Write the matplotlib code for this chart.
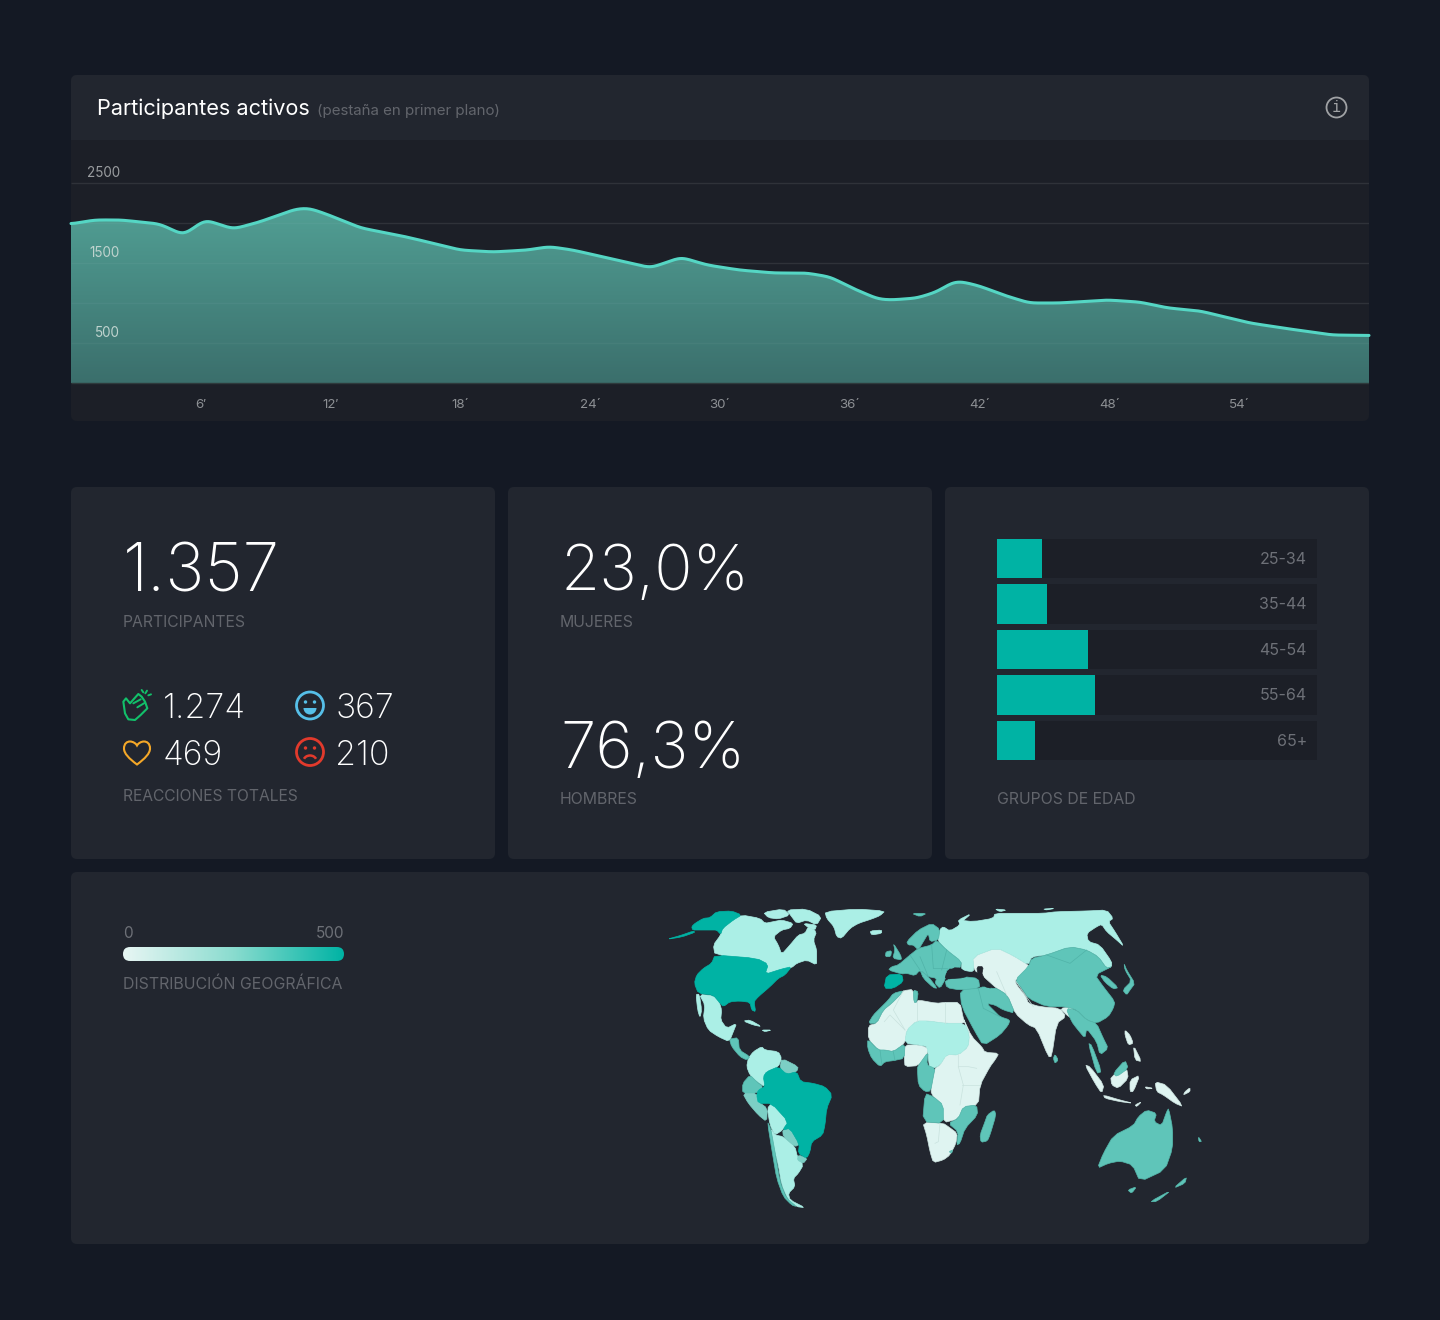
import numpy as np
import matplotlib
matplotlib.use("Agg")
import matplotlib.pyplot as plt
from matplotlib.patches import FancyBboxPatch, Rectangle, Circle, Polygon, PathPatch, Wedge, Arc
from matplotlib.path import Path
from matplotlib.colors import LinearSegmentedColormap

# ---------- data ----------
minutes = [0,1.1,2.3,4.1,5.2,6.2,7.5,8.7,10.4,11.0,11.8,13.4,15.3,16.5,18.0,19.5,21.1,22.1,23.2,24.8,26.8,28.2,29.4,30.9,32.5,34.0,35.1,36.1,37.3,37.9,39.1,40.0,40.8,41.2,42.0,43.1,44.3,45.7,47.9,49.4,50.7,52.2,54.5,56.0,58.3,60]
active = [1988,2038,2038,1988,1850,2040,1925,2012,2175,2185,2112,1938,1838,1762,1662,1638,1662,1705,1662,1562,1440,1572,1475,1412,1375,1375,1325,1188,1050,1038,1062,1138,1265,1265,1212,1100,1000,1000,1038,1012,938,900,750,688,600,594]
x_ticks = [6,12,18,24,30,36,42,48,54]
x_labels = ["6′","12′","18´","24´","30´","36´","42´","48´","54´"]
y_grid = [500,1000,1500,2000,2500]
y_labeled = [500,1500,2500]

age_groups = ["25-34","35-44","45-54","55-64","65+"]
age_share = [14.2,15.6,28.4,30.7,11.9]

C_DARK, C_MID, C_MID2, C_LIGHT, C_PALE = "#00B3A4", "#5FC5B9", "#7CCFC5", "#ABEFE6", "#DFF4F1"

# map outlines, in map units
west_dark = [
 [(125,95),(135,85),(160,70),(180,68),(200,50),(245,48),(275,60),(250,75),(218,100),(212,118),(200,105),(180,105),(150,105),(128,105)],
 [(50,133),(90,122),(130,108),(135,112),(95,126)],
 [(195,180),(320,190),(355,208),(345,238),(395,222),(425,215),(405,240),(385,250),(360,275),(325,305),(312,320),(317,350),(305,345),(300,322),(270,318),(240,320),(220,335),(208,322),(190,300),(145,295),(133,265),(140,240),(160,220),(185,205)],
 [(340,545),(350,530),(385,515),(410,538),(440,530),(452,560),(490,565),(525,575),(547,600),(530,640),(525,690),(518,720),(485,740),(480,770),(470,790),(445,775),(448,748),(420,700),(398,705),(415,680),(365,625),(325,625),(320,600),(325,585),(345,575)],
]
west_light = [
 [(275,60),(330,70),(345,85),(370,80),(395,75),(430,85),(420,100),(395,105),(370,125),(385,150),(395,178),(420,150),(445,120),(465,115),(475,95),(500,110),(490,135),(500,165),(500,185),(500,210),(470,195),(440,205),(425,218),(395,222),(345,238),(355,208),(320,190),(195,180),(190,150),(212,120),(218,100),(250,75)],
 [(340,52),(400,42),(420,60),(385,72),(355,68)],
 [(410,45),(470,42),(515,65),(500,90),(470,75),(440,85),(425,65)],
 [(460,85),(500,90),(495,105),(475,98)],
 [(525,50),(620,42),(705,48),(690,62),(665,72),(625,85),(600,100),(575,130),(560,125),(552,95),(530,70)],
 [(660,108),(695,105),(695,115),(665,120)],
 [(148,298),(190,302),(208,322),(215,345),(212,375),(230,400),(260,385),(250,410),(238,440),(205,425),(175,405),(160,370),(165,330)],
 [(138,298),(148,298),(155,345),(150,368),(143,345)],
 [(295,490),(310,470),(335,455),(345,465),(385,470),(395,490),(385,515),(350,530),(340,545),(345,575),(320,560),(300,540),(290,515)],
 [(352,640),(365,625),(415,680),(398,705),(375,720),(360,690)],
 [(362,700),(375,720),(400,725),(435,755),(442,785),(460,810),(445,835),(430,850),(435,875),(415,895),(420,915),(465,938),(440,935),(415,915),(395,870),(385,810),(372,760)],
 [(280,378),(300,375),(335,395),(310,390)],
 [(335,405),(365,405),(345,410)],
]
west_mid = [
 [(238,432),(265,428),(268,465),(300,485),(290,495),(270,485),(245,455)],
 [(278,565),(300,540),(320,560),(340,575),(320,595),(278,595)],
 [(352,680),(362,700),(375,770),(390,860),(410,910),(440,935),(425,930),(400,905),(380,850),(368,780)],
]
west_mid2 = [
 [(395,490),(445,515),(440,530),(410,538),(390,520)],
 [(278,595),(320,595),(325,620),(352,640),(350,680),(325,660),(295,625)],
 [(398,705),(420,700),(448,748),(435,755),(400,725)],
 [(445,780),(472,790),(460,805),(442,795)],
]
east_dark = [
 [(-40,240),(5,237),(10,260),(-20,280),(-48,280)],
]
east_mid = [
 [(-95,385),(-80,360),(-60,340),(-35,315),(-20,295),(10,287),(0,300),(-25,325),(-50,345),(-70,385)],
 [(40,285),(55,290),(50,322),(42,322)],
 [(-97,432),(-65,465),(-45,465),(-20,470),(15,445),(13,490),(-20,497),(-45,500),(-60,515),(-85,490),(-97,460)],
 [(85,470),(80,510),(105,520),(100,545),(92,588),(75,590),(55,570),(52,520),(55,512)],
 [(75,595),(100,605),(130,630),(130,685),(68,680)],
 [(230,630),(233,660),(195,700),(180,745),(170,750),(175,710),(145,685),(175,670),(190,635)],
 [(147,770),(158,765),(155,775)],
 [(283,645),(288,660),(270,720),(262,738),(243,742),(240,720),(255,680),(262,660)],
 [(-5,210),(30,180),(55,160),(95,150),(110,135),(140,165),(185,200),(180,220),(142,220),(135,255),(120,280),(105,265),(110,250),(85,245),(60,225),(45,242),(20,235),(5,237),(-35,225),(-25,215)],
 [(60,225),(85,245),(112,280),(100,278),(70,250)],
 [(-20,145),(2,180),(5,195),(-22,190),(-15,165)],
 [(-42,170),(-25,167),(-28,185),(-44,185)],
 [(20,140),(55,105),(95,85),(120,103),(115,135),(90,140),(85,115),(70,140),(55,165),(40,150),(25,150)],
 [(35,55),(80,55),(60,65)],
 [(385,215),(395,190),(440,180),(510,155),(560,165),(595,185),(620,220),(635,215),(585,240),(610,275),(645,320),(640,340),(625,365),(590,385),(560,375),(530,345),(498,335),(440,335),(385,310),(365,280),(345,255)],
 [(600,240),(620,245),(655,278),(640,282),(615,262)],
 [(672,205),(680,225),(705,265),(690,285),(680,300),(668,285),(695,258),(675,225)],
 [(498,340),(530,345),(560,375),(590,385),(610,430),(625,460),(600,480),(590,440),(560,400),(555,430),(530,400),(515,380)],
 [(565,445),(575,450),(605,530),(590,535)],
 [(135,255),(190,245),(235,250),(240,280),(180,285),(140,278)],
 [(180,285),(235,280),(250,275),(275,280),(290,280),(322,300),(345,355),(310,345),(285,330),(260,325),(285,350),(300,365),(330,375),(325,390),(300,420),(250,452),(225,410),(185,335)],
 [(465,478),(475,495),(465,505),(460,490)],
 [(640,535),(675,495),(685,520),(650,545)],
 [(592,820),(610,775),(640,722),(700,692),(715,665),(740,645),(770,655),(762,680),(785,692),(800,650),(806,640),(818,700),(818,760),(795,825),(720,860),(698,810),(660,798),(625,805)],
 [(683,885),(710,875),(695,895)],
 [(820,880),(860,845),(855,865)],
 [(750,920),(815,885),(770,920)],
 [(895,725),(905,740),(897,740)],
]
east_light = [
 [(20,405),(50,378),(85,378),(135,385),(195,385),(208,420),(205,455),(175,480),(140,478),(120,510),(90,525),(85,490),(82,455),(60,450),(15,445)],
 [(130,95),(150,108),(180,90),(175,75),(220,80),(280,70),(285,55),(355,55),(430,55),(470,50),(560,48),(620,45),(640,70),(625,80),(645,110),(672,155),(650,135),(620,110),(605,88),(590,95),(560,115),(565,140),(600,150),(635,200),(635,215),(620,220),(595,185),(560,165),(510,155),(440,180),(395,185),(385,210),(340,182),(290,158),(218,185),(222,225),(215,230),(185,225),(185,200),(140,165),(112,135),(120,103)],
 [(175,75),(215,55),(180,85)],
 [(285,42),(320,45),(300,50)],
 [(430,42),(465,40),(440,45)],
]
east_pale = [
 [(-95,392),(-70,385),(-50,345),(-25,325),(0,300),(10,287),(40,283),(42,322),(50,322),(55,315),(110,325),(135,322),(180,322),(190,370),(195,385),(135,385),(85,378),(50,378),(20,405),(15,445),(-20,470),(-45,465),(-65,465),(-95,432)],
 [(13,450),(60,450),(85,460),(80,480),(55,512),(15,515),(13,490)],
 [(190,370),(215,425),(245,455),(255,472),(297,475),(285,495),(270,515),(240,570),(235,630),(190,635),(175,672),(130,683),(128,630),(100,605),(92,588),(100,545),(105,520),(120,510),(140,478),(175,480),(205,455),(208,420),(195,385)],
 [(68,682),(130,685),(145,695),(172,715),(168,745),(150,780),(130,795),(100,803),(90,770),(80,720)],
 [(218,185),(290,158),(340,182),(385,210),(390,222),(345,255),(350,270),(378,305),(385,325),(420,335),(480,340),(498,365),(470,385),(455,485),(445,485),(410,400),(385,390),(345,355),(322,300),(290,280),(262,255),(245,240),(222,225)],
 [(480,340),(520,335),(515,370),(500,360)],
 [(560,385),(585,395),(605,440),(590,430),(570,412)],
 [(555,510),(570,515),(612,570),(605,595),(585,565)],
 [(610,600),(660,615),(700,625),(660,620),(615,610)],
 [(632,545),(680,520),(685,550),(655,580),(635,570)],
 [(690,555),(720,540),(700,590),(690,590)],
 [(675,405),(690,420),(700,445),(685,450),(675,420)],
 [(700,450),(725,500),(705,495)],
 [(765,560),(800,570),(850,635),(825,625),(790,600),(770,590)],
 [(705,630),(725,620),(710,635)],
 [(735,575),(760,580),(740,582)],
 [(855,590),(870,578),(870,590),(850,600)],
]
east_seas = [
 [(140,232),(170,215),(205,235),(195,248),(135,252)],
 [(230,215),(250,215),(245,240),(275,280),(255,275),(235,245)],
]
pale_borders = [
 [(-47,380),(-30,360),(15,405)],[(10,287),(-20,345),(15,405)],[(50,322),(50,378)],[(135,322),(135,385)],
 [(175,480),(175,515),(190,570),(180,630)],[(230,520),(205,515),(175,515)],[(240,570),(185,570)],
 [(120,685),(115,740),(105,745)],[(290,230),(320,300)],[(345,255),(400,335)],
]
mid_borders = [
 [(30,180),(60,225)],[(60,185),(85,245)],[(95,150),(100,220)],[(140,165),(125,225)],[(100,220),(142,220)],
 [(440,180),(510,205),(560,165)],[(235,280),(250,340),(300,365)],[(-60,465),(-55,505)],[(-20,470),(-15,497)],
]

# ---------- setup ----------
BG, CARD, PANEL = "#141924", "#22262F", "#1C1F27"
WHITE, GREY, TICK = "#FFFFFF", "#62656C", "#8D9094"
plt.rcParams["font.family"] = ["Inter", "DejaVu Sans"]

fig = plt.figure(figsize=(14.4, 13.2), dpi=100, facecolor=BG)
W, H = 1440, 1320
def rect_px(x0, y0, x1, y1):
    return [x0 / W, 1 - y1 / H, (x1 - x0) / W, (y1 - y0) / H]

bg = fig.add_axes([0, 0, 1, 1], zorder=0)
bg.set_xlim(0, W); bg.set_ylim(H, 0); bg.axis("off")

def card(x0, y0, x1, y1, c=CARD):
    bg.add_patch(FancyBboxPatch((x0, y0), x1 - x0, y1 - y0, boxstyle="round,pad=0,rounding_size=6", fc=c, ec="none"))

card(71, 75, 1369, 421, PANEL)
card(71, 75, 1369, 130, CARD)
bg.add_patch(Rectangle((71, 100), 1298, 40, fc=CARD, ec="none"))
card(71, 487, 495, 859); card(508, 487, 932, 859); card(945, 487, 1369, 859); card(71, 872, 1369, 1244)

top = fig.add_axes([0, 0, 1, 1], zorder=5, facecolor="none")
top.set_xlim(0, W); top.set_ylim(H, 0); top.axis("off")

def T(x, y, s, px, color=GREY, ha="left", weight="normal"):
    return top.text(x, y, s, fontsize=px * 0.72, color=color, ha=ha, va="baseline", fontweight=weight)

# ---------- area chart ----------
ax = fig.add_axes(rect_px(71, 140, 1369, 421), zorder=2, facecolor="none")
for s in ax.spines.values():
    s.set_visible(False)
xd = np.linspace(0, 60, 1201)
yd = np.interp(xd, minutes, active)
k = 11
for _ in range(2):
    yd = np.convolve(np.r_[np.full(k, yd[0]), yd, np.full(k, yd[-1])], np.ones(k) / k, "same")[k:-k]
ax.hlines(y_grid, 0, 60, color="white", alpha=0.085, lw=1, zorder=0)
poly = ax.fill_between(xd, 0, yd, color="none", lw=0)
cmap = LinearSegmentedColormap.from_list("area", ["#3B6F6C", "#519F94"])
im = ax.imshow(np.linspace(1, 0, 200)[:, None], extent=(0, 60, 0, 2200), aspect="auto", cmap=cmap, vmin=0, vmax=1, zorder=1)
im.set_clip_path(poly.get_paths()[0], transform=ax.transData)
ax.set_xlim(0, 60); ax.set_ylim(-475, 3037.5)
clip_grid = ax.hlines(y_grid, 0, 60, color="white", alpha=0.04, lw=1, zorder=2)
clip_grid.set_clip_path(poly.get_paths()[0], transform=ax.transData)
ax.hlines([0], 0, 60, color="#2E3A3C", lw=1, zorder=2)
ax.plot(xd, yd, color="#55D6C4", lw=2.2, zorder=3, clip_on=False, solid_capstyle="round")
ax.set_xticks(x_ticks, x_labels)
ax.set_yticks([])
ax.tick_params(axis="x", length=0, pad=-15.7, colors=TICK, labelsize=9.6)
for v in y_labeled:
    ax.text(2.27, v + 70, str(v), color="#9A9DA0" if v == 2500 else "#BFD3CE", fontsize=9.7, ha="right", va="baseline", zorder=4)

T(97, 115, "Participantes activos", 21.7, "#FFFFFF")
T(317, 115, "(pestaña en primer plano)", 15.1, GREY)
top.add_patch(Circle((1336.5, 107.5), 10, fc="none", ec="#A0A2A5", lw=1.3))
top.text(1336.5, 108, "i", fontsize=11, color="#A0A2A5", ha="center", va="center", family="DejaVu Sans Mono")

# ---------- KPIs ----------
THIN = 200
T(123, 591, "1.357", 66, WHITE, weight=THIN)
T(123, 627, "PARTICIPANTES", 15.7, GREY)
T(163, 718, "1.274", 34, WHITE, weight=THIN)
T(335, 718, "367", 34, WHITE, weight=THIN)
T(162.5, 765, "469", 34, WHITE, weight=THIN)
T(335, 765, "210", 34, WHITE, weight=THIN)
T(123, 801, "REACCIONES TOTALES", 15.6, GREY)
T(560, 590, "23,0%", 63.5, WHITE, weight=THIN)
T(560, 627, "MUJERES", 15.8, GREY)
T(560, 768, "76,3%", 64, WHITE, weight=THIN)
T(560, 804, "HOMBRES", 15.8, GREY)
T(997, 804, "GRUPOS DE EDAD", 15.8, GREY)
T(123, 938, "0", 15.3, "#6D7077")
T(344, 938, "500", 15.3, "#6D7077", ha="right")
T(123, 989, "DISTRIBUCIÓN GEOGRÁFICA", 15.9, GREY)

# icons
GREEN, BLUE, ORANGE, RED = "#12C06A", "#56BFE8", "#F5A828", "#E23A2C"
def z2(pts):
    return [(100 + a / 3, 670 + b / 3) for a, b in pts]
hand = z2([(70,95),(78,85),(90,100),(115,72),(125,80),(135,95),(142,115),(122,135),(105,150),(85,148),(75,130)])
top.add_patch(Polygon(hand, closed=True, fc="none", ec=GREEN, lw=1.5, joinstyle="round"))
for seg in ([(100,100),(122,88)], [(112,112),(135,98)], [(125,60),(130,67)], [(141,62),(136,70)], [(153,73),(145,76)]):
    pp = z2(seg)
    top.plot(*zip(*pp), color=GREEN, lw=1.4, solid_capstyle="round")

top.add_patch(Circle((310, 705.5), 13.5, fc="none", ec=BLUE, lw=2))
top.add_patch(Circle((305.5, 702), 1.7, fc=BLUE, ec="none"))
top.add_patch(Circle((314.5, 702), 1.7, fc=BLUE, ec="none"))
top.add_patch(Wedge((310, 708), 6.5, 0, 180, fc=BLUE, ec="none"))

top.add_patch(Circle((310, 752), 13.5, fc="none", ec=RED, lw=2))
top.add_patch(Circle((305.5, 748), 1.7, fc=RED, ec="none"))
top.add_patch(Circle((314.5, 748), 1.7, fc=RED, ec="none"))
top.add_patch(Arc((310, 761), 13, 11, theta1=200, theta2=340, ec=RED, lw=1.8))

hx, hy = 137, 752.5
hv = [(hx, hy + 12),
      (hx - 8, hy + 6), (hx - 13, hy + 1), (hx - 13, hy - 4),
      (hx - 13, hy - 9), (hx - 10, hy - 11), (hx - 7, hy - 11),
      (hx - 4, hy - 11), (hx - 1, hy - 9), (hx, hy - 7),
      (hx + 1, hy - 9), (hx + 4, hy - 11), (hx + 7, hy - 11),
      (hx + 10, hy - 11), (hx + 13, hy - 9), (hx + 13, hy - 4),
      (hx + 13, hy + 1), (hx + 8, hy + 6), (hx, hy + 12),
      (hx, hy + 12)]
hc = [Path.MOVETO] + [Path.CURVE4] * 18 + [Path.CLOSEPOLY]
top.add_patch(PathPatch(Path(hv, hc), fc="none", ec=ORANGE, lw=1.5))

# ---------- age bars ----------
axb = fig.add_axes(rect_px(997, 539, 1317, 760), zorder=2, facecolor="none")
ypos = np.arange(len(age_groups))
axb.barh(ypos, [100] * len(ypos), height=0.86, color=PANEL, zorder=1)
axb.barh(ypos, age_share, height=0.86, color="#00B3A4", zorder=2)
axb.set_xlim(0, 100); axb.set_ylim(len(ypos) - 0.57, -0.43)
axb.axis("off")
for i, lab in enumerate(age_groups):
    axb.text(96.8, i + 0.02, lab, color="#6D7077", fontsize=11.5, ha="right", va="center", zorder=3)

# ---------- legend gradient ----------
lg = fig.add_axes(rect_px(123, 947, 344, 961), zorder=2, facecolor="none")
lg.axis("off")
gcm = LinearSegmentedColormap.from_list("geo", ["#E8F6F4", "#8ADCCF", "#00B3A4"])
img = lg.imshow(np.linspace(0, 500, 256)[None, :], extent=(0, 500, 0, 1), aspect="auto", cmap=gcm)
lg.set_xlim(0, 500); lg.set_ylim(0, 1)
clip = FancyBboxPatch((0, 0), 500, 1, boxstyle="round,pad=0,rounding_size=16", mutation_aspect=1 / 32, fc="none", ec="none")
lg.add_patch(clip)
img.set_clip_path(clip)

# ---------- map ----------
axm = fig.add_axes(rect_px(650, 895, 1220, 1215), zorder=2, facecolor="none")
axm.set_xlim(-750, 960); axm.set_ylim(960, 0); axm.axis("off")
def soften(arr):
    nxt = np.roll(arr, -1, axis=0)
    return np.stack([0.8 * arr + 0.2 * nxt, 0.2 * arr + 0.8 * nxt], axis=1).reshape(-1, 2)
def draw(polys, color, dx=0, edge=None):
    for pts in polys:
        arr = soften(np.array(pts, float) + [dx, 0])
        axm.add_patch(Polygon(arr, closed=True, fc=color, ec=edge or color, lw=0.5, joinstyle="round"))
draw(west_light, C_LIGHT, -750); draw(west_mid, C_MID, -750, "#55B8AC"); draw(west_mid2, C_MID2, -750); draw(west_dark, C_DARK, -750)
draw(east_pale, C_PALE, 0, "#CFE6E3"); draw(east_light, C_LIGHT); draw(east_mid, C_MID, 0, "#55B8AC"); draw(east_dark, C_DARK)
draw(east_seas, CARD)
for line in pale_borders:
    axm.plot(*zip(*line), color="#C9E2DE", lw=0.5, zorder=3)
for line in mid_borders:
    axm.plot(*zip(*line), color="#50B3A8", lw=0.5, zorder=3)
axm.set_xlim(-750, 960); axm.set_ylim(960, 0)

fig.savefig("out.png", dpi=100, facecolor=BG)
